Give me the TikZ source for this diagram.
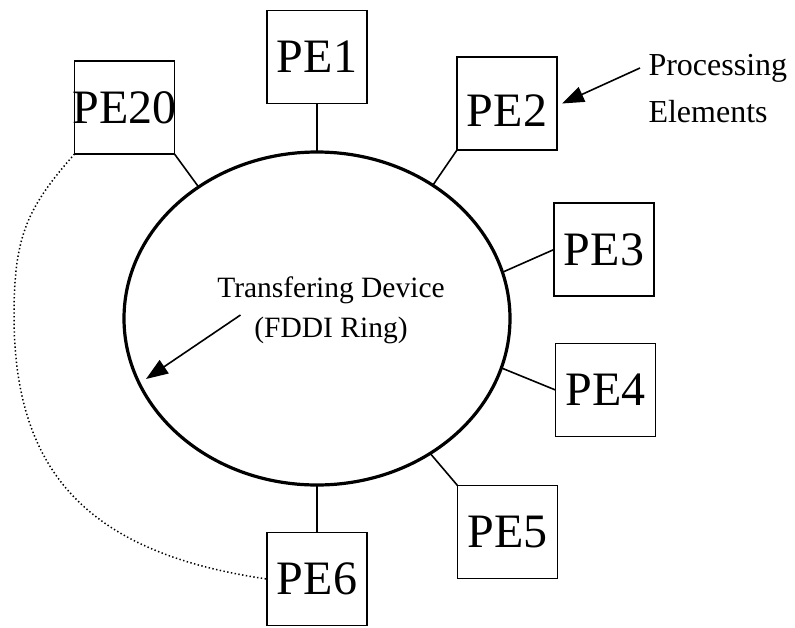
\documentclass[tikz,border=0pt]{standalone}
\usepackage{fontspec}
\setmainfont{Liberation Serif}
\usetikzlibrary{arrows.meta,shapes.geometric}

\begin{document}
\begin{tikzpicture}[x=1pt,y=-1pt,
  pebox/.style={draw,rectangle,line width=1.9pt,minimum width=100pt,minimum height=93pt,
    inner sep=0pt,outer sep=0pt,font=\fontsize{48}{50}\selectfont},
  conn/.style={line width=1.6pt},
  ringstyle/.style={draw,ellipse,line width=3.2pt,minimum width=386pt,minimum height=333pt,
    inner sep=0pt,outer sep=0pt},
  pointer/.style={line width=1.6pt,-{Triangle[length=22pt,width=16pt]}},
  loopline/.style={line width=1.5pt,dash pattern=on 1.4pt off 2.4pt}]
  \useasboundingbox (0,0) rectangle (795,627);

  % the FDDI ring
  \node[ringstyle] (ring) at (317,318.5) {};

  % processing elements
  \node[pebox] (PE1)  at (317,57)     {PE1};
  \node[pebox,text height=46pt,text depth=0pt] (PE2) at (507,103.5) {PE2};
  \node[pebox] (PE3)  at (604,249.5)  {PE3};
  \node[pebox] (PE4)  at (605.5,390)  {PE4};
  \node[pebox] (PE5)  at (507.5,532)  {PE5};
  \node[pebox] (PE6)  at (317,579)    {PE6};
  \node[pebox] (PE20) at (124.5,107.5) {\makebox[99pt][c]{PE20}};

  % attachments to the ring
  \draw[conn] (PE1.south)       -- (ring.90);
  \draw[conn] (PE2.south west)  -- (ring.49.3);
  \draw[conn] (PE3.west)        -- (ring.14.9);
  \draw[conn] (PE4.west)        -- (ring.-15.9);
  \draw[conn] (PE5.north west)  -- (ring.-50.2);
  \draw[conn] (PE6.north)       -- (ring.-90);
  \draw[conn] (PE20.south east) -- (ring.132.4);

  % elements PE7 ... PE19 left out, shown by the dotted arc
  \coordinate (loopmid) at (14,315);
  \draw[loopline] (PE20.south west) .. controls (28,207) and (14,235) .. (loopmid)
                  .. controls (14,465) and (80,552) .. (PE6.west);

  % ring caption and its pointer
  \node[align=center,font=\fontsize{29.5}{40}\selectfont] (ringtext) at (331,310)
    {Transfering Device\\(FDDI Ring)};
  \coordinate (ringtail) at (240.5,315);
  \coordinate (ringtip) at (146,379);
  \draw[pointer] (ringtail) -- (ringtip);

  % caption for the boxes and its pointer
  \node[align=left,anchor=west,font=\fontsize{32}{47}\selectfont] (proc) at (645,89)
    {Processing\\Elements};
  \coordinate (proctail) at (640,68);
  \draw[pointer] (proctail) -- ([xshift=5pt]PE2.east);
\end{tikzpicture}
\end{document}
